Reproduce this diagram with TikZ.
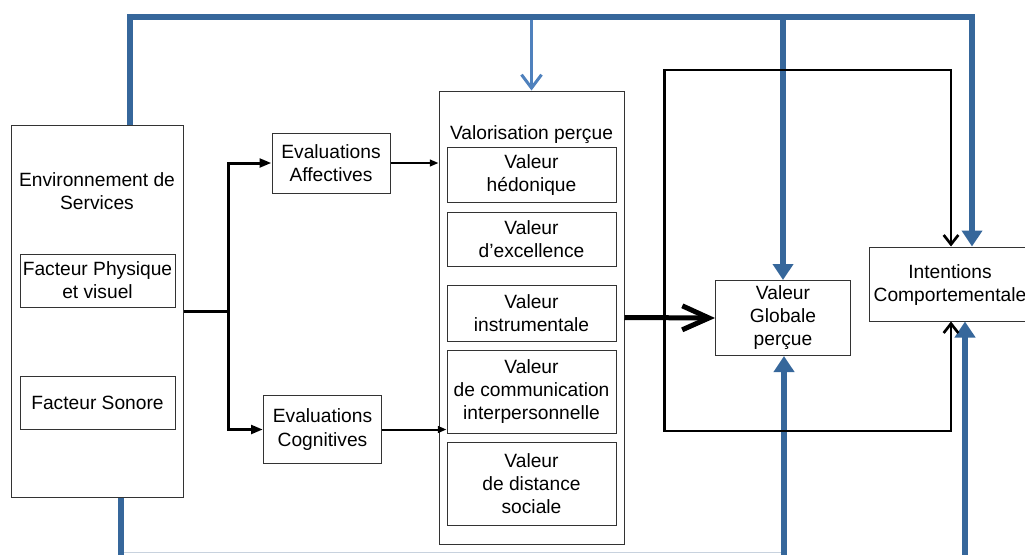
\documentclass[tikz,border=0pt]{standalone}
\usepackage{fontspec}
\setmainfont{Liberation Sans}
\usetikzlibrary{arrows.meta,calc}
\definecolor{dblue}{RGB}{54,103,155}
\definecolor{lblue}{RGB}{79,129,189}
\definecolor{faint}{RGB}{200,210,222}
\tikzset{
  pxsize/.style 2 args={minimum width=#1*0.75pt, minimum height=#2*0.75pt},
  box/.style={draw=black!80, line width=0.75pt, inner sep=0pt, align=center,
    font=\fontsize{14.4}{17.3}\selectfont},
  lbl/.style={inner sep=0pt, align=center, font=\fontsize{14.4}{17.3}\selectfont},
  blueline/.style={draw=dblue, line width=4.5pt},
  bluetip/.style={-{Triangle[length=12pt,width=15pt]}},
  lightline/.style={draw=lblue, line width=2.25pt, -{Straight Barb[length=10pt,width=15pt]}},
  thickblack/.style={draw=black, line width=2.25pt},
  smalltip/.style={-{Triangle[length=9pt,width=6.5pt]}},
  medblack/.style={draw=black, line width=1.5pt, -{Triangle[length=6.5pt,width=5pt]}},
  bigarrow/.style={draw=black, line width=3.75pt, -{Straight Barb[length=20pt,width=18pt]}},
  loopline/.style={draw=black, line width=2pt},
  looptip/.style={-{Straight Barb[length=7pt,width=11pt]}}
}
\begin{document}
\begin{tikzpicture}[x=0.75pt,y=-0.75pt]
\useasboundingbox (0,0) rectangle (1025,554);
% boxes
\node[box, pxsize={172}{372}] (env) at (97,311) {};
\node[lbl] (envl) at (97,191) {Environnement de\\Services};
\node[box, pxsize={155}{53}] (fp) at (97.5,280.5) {Facteur Physique\\et visuel};
\node[box, pxsize={155}{53}] (fs) at (97.5,402.5) {Facteur Sonore};
\node[box, pxsize={118}{60}] (ea) at (331,163) {Evaluations\\Affectives};
\node[box, pxsize={118}{68}] (ec) at (322.5,429.5) {Evaluations\\Cognitives};
\node[box, pxsize={185}{453}] (val) at (531.5,317.5) {};
\node[lbl] (vall) at (531.5,135) {Valorisation perçue};
\node[box, pxsize={169}{55}] (v1) at (531.5,175) {Valeur\\hédonique};
\node[box, pxsize={169}{54}] (v2) at (531.5,239.5) {Valeur\\d’excellence};
\node[box, pxsize={169}{56}] (v3) at (531.5,313) {Valeur\\instrumentale};
\node[box, pxsize={169}{83}] (v4) at (531.5,391.5) {Valeur\\de communication\\interpersonnelle};
\node[box, pxsize={169}{83}] (v5) at (531.5,484) {Valeur\\de distance\\sociale};
\node[box, pxsize={135}{75}] (vg) at (783,318) {Valeur\\Globale\\perçue};
\node[box, pxsize={171}{74}] (ic) at (954.75,284) {};
\node[lbl] (icl) at (950,285) {Intentions\\Comportementale};
% coordinates
\coordinate (t1) at (129.5,16.5);
\coordinate (t2) at (972,16.5);
\coordinate (j) at (228.5,311);
\coordinate (lt) at (664.5,70);
\coordinate (lb) at (664.5,431);
\coordinate (ir) at (951,70);
\coordinate (b1) at (121,560);
\coordinate (b2) at (784,560);
\coordinate (b3) at (965,560);
\coordinate (f1) at (124,552.5);
\coordinate (f2) at (781,552.5);
% light blue arrow into valorisation
\draw[lightline] (val.north |- t1) -- (val.north);
% top blue loop
\draw[blueline, bluetip] (env.north -| t1) -- (t1) -- (t2) -- (ic.north -| t2);
\draw[blueline, bluetip] (vg.north |- t1) -- (vg.north);
% bottom blue lines
\draw[faint, line width=0.75pt] (f1) -- (f2);
\draw[blueline] (env.south -| b1) -- (b1);
\draw[blueline, bluetip] (b2) -- (b2 |- vg.south);
\draw[blueline, bluetip] (b3) -- (b3 |- ic.south);
% black connectors from environment
\draw[thickblack] (env.east) -- (j);
\draw[thickblack, smalltip] (j) |- (ea.west);
\draw[thickblack, smalltip] (j) |- (ec.west);
\draw[medblack] (ea.east) -- (ea.east -| val.west);
\draw[medblack] (ec.east) -- (ec.east -| v4.west);
% loop to intentions
\draw[loopline, looptip] (lt |- val.east) -- (lt) -- (ir) -- (ir |- ic.north);
\draw[loopline, looptip] (lt |- val.east) -- (lb) -| (ir |- ic.south);
% big arrow to global value
\draw[bigarrow] (val.east) -- (vg.west);
\end{tikzpicture}
\end{document}
